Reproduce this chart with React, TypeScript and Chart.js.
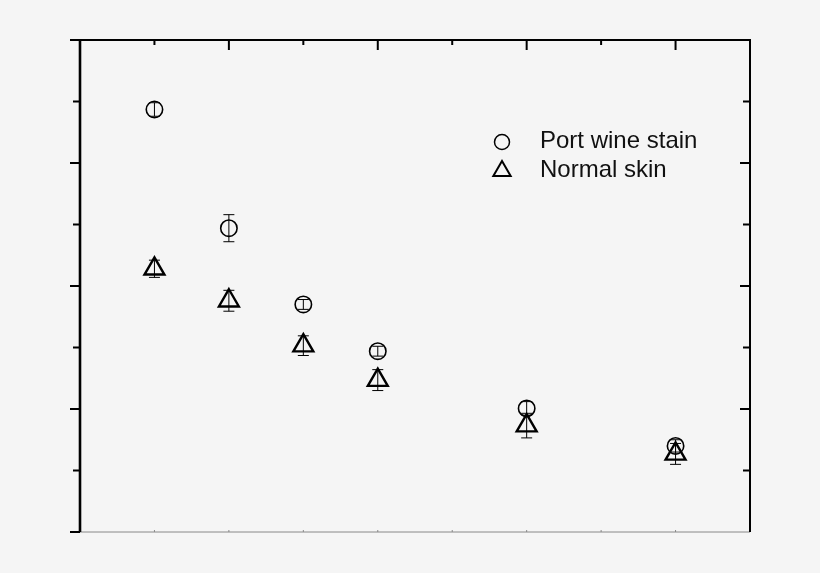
import { useEffect, useRef } from 'react';
import { Chart, registerables } from 'chart.js';

Chart.register(...registerables);

const xValues = [1, 2, 3, 4, 6, 8];
const portWine = [6.87, 4.94, 3.70, 2.94, 2.01, 1.40];
const portWineErr = [0.11, 0.22, 0.08, 0.08, 0.11, 0.1];
const normalSkin = [4.28, 3.76, 3.03, 2.47, 1.73, 1.27];
const normalSkinErr = [0.14, 0.17, 0.16, 0.17, 0.2, 0.17];
const seriesLabels = ['Port wine stain', 'Normal skin'];

const errorBars = {
  id: 'errorBars',
  afterDatasetsDraw(chart: Chart) {
    const { ctx } = chart;
    const x = chart.scales.x;
    const y = chart.scales.y;
    const errs = [portWineErr, normalSkinErr];
    const vals = [portWine, normalSkin];
    ctx.save();
    ctx.strokeStyle = '#000';
    ctx.lineWidth = 1;
    errs.forEach((err, d) => {
      xValues.forEach((xv, i) => {
        const px = x.getPixelForValue(xv);
        const top = y.getPixelForValue(vals[d][i] + err[i]);
        const bot = y.getPixelForValue(vals[d][i] - err[i]);
        ctx.beginPath();
        ctx.moveTo(px, top);
        ctx.lineTo(px, bot);
        ctx.moveTo(px - 5.5, top);
        ctx.lineTo(px + 5.5, top);
        ctx.moveTo(px - 5.5, bot);
        ctx.lineTo(px + 5.5, bot);
        ctx.stroke();
      });
    });
    ctx.restore();
  },
};

const frame = {
  id: 'frame',
  afterDraw(chart: Chart) {
    const { ctx, chartArea: a } = chart;
    const x = chart.scales.x;
    const y = chart.scales.y;
    ctx.save();
    ctx.lineCap = 'butt';
    // bottom axis, light gray
    ctx.strokeStyle = '#888';
    ctx.lineWidth = 1;
    ctx.beginPath();
    ctx.moveTo(a.left - 10, a.bottom);
    ctx.lineTo(a.right, a.bottom);
    for (let v = 1; v <= 8; v++) {
      const px = x.getPixelForValue(v);
      ctx.moveTo(px, a.bottom);
      ctx.lineTo(px, a.bottom - 2);
    }
    ctx.stroke();

    ctx.strokeStyle = '#000';
    // top axis
    ctx.lineWidth = 2;
    ctx.beginPath();
    ctx.moveTo(a.left - 10, a.top);
    ctx.lineTo(a.right + 1, a.top);
    for (let v = 1; v <= 8; v++) {
      const px = x.getPixelForValue(v);
      const len = v % 2 === 0 ? 10 : 5;
      ctx.moveTo(px, a.top);
      ctx.lineTo(px, a.top + len);
    }
    ctx.stroke();

    // right axis, inward ticks
    ctx.beginPath();
    ctx.moveTo(a.right, a.top);
    ctx.lineTo(a.right, a.bottom);
    for (let v = 1; v <= 7; v++) {
      const py = y.getPixelForValue(v);
      const len = v % 2 === 0 ? 10 : 7;
      ctx.moveTo(a.right, py);
      ctx.lineTo(a.right - len, py);
    }
    ctx.stroke();

    // left axis, thick, outward ticks
    ctx.lineWidth = 2.6;
    ctx.beginPath();
    ctx.moveTo(a.left, a.top);
    ctx.lineTo(a.left, a.bottom);
    ctx.stroke();
    ctx.lineWidth = 2;
    ctx.beginPath();
    for (let v = 0; v <= 8; v++) {
      const py = y.getPixelForValue(v);
      const len = v % 2 === 0 ? 10 : 7;
      ctx.moveTo(a.left, py);
      ctx.lineTo(a.left - len, py);
    }
    ctx.stroke();

    // legend
    ctx.fillStyle = '#111';
    ctx.font = '24px "Liberation Sans", Arial, sans-serif';
    ctx.textBaseline = 'middle';
    ctx.textAlign = 'left';
    ctx.lineWidth = 1.5;
    ctx.beginPath();
    ctx.arc(502, 142, 7.5, 0, Math.PI * 2);
    ctx.stroke();
    ctx.fillText(seriesLabels[0], 540, 141);
    const r = 10;
    const cx = 502;
    const cy = 171;
    ctx.lineWidth = 2;
    ctx.beginPath();
    ctx.moveTo(cx, cy - r);
    ctx.lineTo(cx + Math.sin((2 * Math.PI) / 3) * r, cy + r / 2);
    ctx.lineTo(cx - Math.sin((2 * Math.PI) / 3) * r, cy + r / 2);
    ctx.closePath();
    ctx.stroke();
    ctx.fillText(seriesLabels[1], 540, 170);
    ctx.restore();
  },
};

export default function App() {
  const chartRef = useRef<HTMLCanvasElement>(null);
  const chartInstance = useRef<Chart | null>(null);

  useEffect(() => {
    if (chartRef.current) {
      if (chartInstance.current) {
        chartInstance.current.destroy();
      }
      const ctx = chartRef.current.getContext('2d');
      if (ctx) {
        chartInstance.current = new Chart(ctx, {
          type: 'scatter',
          data: {
            datasets: [
              {
                label: seriesLabels[0],
                data: xValues.map((x, i) => ({ x, y: portWine[i] })),
                pointStyle: 'circle',
                pointRadius: 8.2,
                borderColor: '#000',
                backgroundColor: 'rgba(0,0,0,0)',
                borderWidth: 1.6,
              },
              {
                label: seriesLabels[1],
                data: xValues.map((x, i) => ({ x, y: normalSkin[i] })),
                pointStyle: 'triangle',
                pointRadius: 11.5,
                borderColor: '#000',
                backgroundColor: 'rgba(0,0,0,0)',
                borderWidth: 2.4,
              },
            ],
          },
          options: {
            animation: false,
            responsive: false,
            devicePixelRatio: 1,
            layout: { padding: { left: 80, right: 70, top: 40, bottom: 41 } },
            plugins: {
              legend: { display: false },
              tooltip: { enabled: false },
            },
            scales: {
              x: { type: 'linear', min: 0, max: 9, display: false },
              y: { type: 'linear', min: 0, max: 8, display: false },
            },
          },
          plugins: [errorBars, frame],
        });
      }
    }
    return () => {
      if (chartInstance.current) {
        chartInstance.current.destroy();
        chartInstance.current = null;
      }
    };
  }, []);

  return (
    <div style={{ position: 'absolute', left: 0, top: 0, width: 820, height: 573, background: '#f5f5f5' }}>
      <canvas ref={chartRef} width={820} height={573} />
    </div>
  );
}
